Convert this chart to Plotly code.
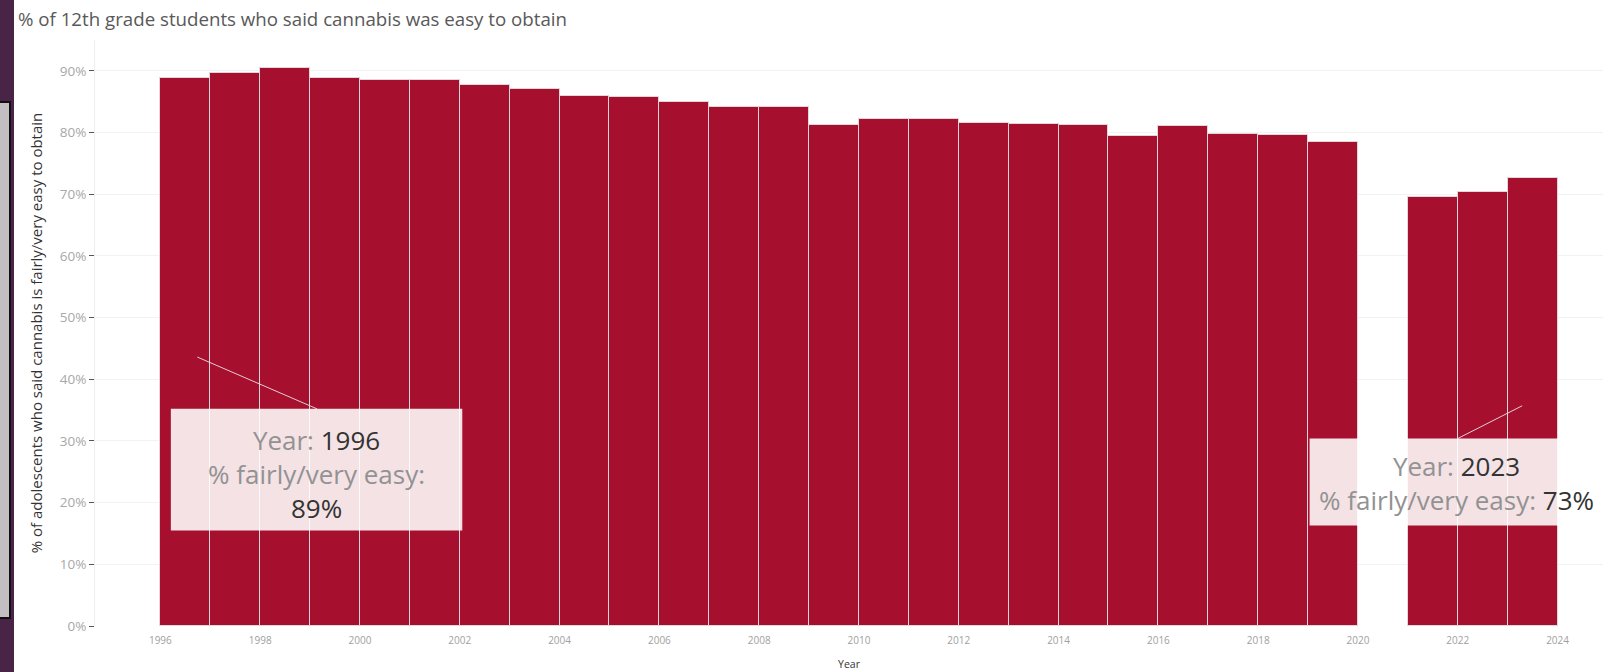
import plotly.graph_objects as go

years = [1996, 1997, 1998, 1999, 2000, 2001, 2002, 2003, 2004, 2005, 2006, 2007,
         2008, 2009, 2010, 2011, 2012, 2013, 2014, 2015, 2016, 2017, 2018, 2019,
         2021, 2022, 2023]
pct_easy = [88.8, 89.7, 90.5, 88.9, 88.5, 88.5, 87.7, 87.1, 85.9, 85.7, 84.9, 84.1,
            84.1, 81.2, 82.2, 82.2, 81.6, 81.4, 81.2, 79.4, 81.1, 79.8, 79.6, 78.4,
            69.6, 70.4, 72.7]
x_ticks = list(range(1996, 2025, 2))
y_ticks = list(range(0, 91, 10))
y_tick_labels = [f"{v}%" for v in y_ticks]

title_text = "% of 12th grade students who said cannabis was easy to obtain"
y_title = "% of adolescents who said cannabis is fairly/very easy to obtain"

BAR = "#A6102E"
FONT = "Open Sans"

fig = go.Figure()
fig.add_trace(go.Bar(
    x=years, y=pct_easy, offset=0, width=1,
    marker=dict(color=BAR, line=dict(color="rgba(225,215,218,1)", width=1)),
    hovertemplate="Year: %{x}<br>% fairly/very easy: %{y:.0f}%<extra></extra>",
))

# left-edge screenshot decoration
fig.add_shape(type="rect", xref="paper", yref="paper",
              x0=-95/1508, x1=-81/1508, y0=-46/586, y1=626/586,
              fillcolor="#4a2446", line=dict(width=0), layer="above")
fig.add_shape(type="rect", xref="paper", yref="paper",
              x0=-96/1508, x1=-85/1508, y0=(626-618)/586, y1=(626-102)/586,
              fillcolor="#c2bec2", line=dict(color="#111", width=2), layer="above")

# tooltip overlays
def tooltip(x0, x1, y0, y1, px, py, qx, qy):
    fig.add_shape(type="line", x0=px, y0=py, x1=qx, y1=qy,
                  line=dict(color="rgba(235,225,228,0.9)", width=1), layer="above")
    fig.add_shape(type="rect", x0=x0, x1=x1, y0=y0, y1=y1,
                  fillcolor="rgba(255,255,255,0.88)", line=dict(width=0), layer="above")

tooltip(1996.21, 2002.05, 15.5, 35.2, 1996.74, 43.6, 1999.14, 35.2)
tooltip(2019.03, 2024.95, 16.3, 30.4, 2023.29, 35.7, 2022.0, 30.4)

G = "#929292"
D = "#333333"
def txt(x, y, s):
    fig.add_annotation(x=x, y=y, text=s, showarrow=False, xanchor="center",
                       yanchor="middle", align="center",
                       font=dict(family=FONT, size=26, color=G))

cx1 = (1996.21 + 2002.05) / 2
txt(cx1, 24.7,
    f"Year: <span style='color:{D}'>{years[0]}</span><br>"
    f"% fairly/very easy:<br>"
    f"<span style='color:{D}'>{round(pct_easy[0])}%</span>")
cx2 = (2019.03 + 2024.91) / 2
txt(cx2, 23.2,
    f"Year: <span style='color:{D}'>{years[-1]}</span><br>"
    f"% fairly/very easy: <span style='color:{D}'>{round(pct_easy[-1])}%</span>")

fig.update_layout(
    width=1603, height=672,
    margin=dict(l=95, r=0, t=40, b=46),
    paper_bgcolor="white", plot_bgcolor="white",
    showlegend=False,
    bargap=0,
    font=dict(family=FONT, color="#555"),
    title=dict(text=title_text, x=18/1603, xanchor="left", xref="container",
               y=1-19/672, yanchor="middle", yref="container",
               font=dict(family=FONT, size=18.7, color="#595959")),
    xaxis=dict(range=[1994.69, 2024.91], tickmode="array", tickvals=x_ticks,
               ticktext=[str(t) for t in x_ticks], showgrid=False, zeroline=False,
               showline=False, ticks="", ticklabelstandoff=7, automargin=False,
               tickfont=dict(family=FONT, size=10, color="#a0a0a0"),
               title=dict(text="Year", font=dict(family=FONT, size=10.5, color="#333"), standoff=14)),
    yaxis=dict(range=[0, 95], tickmode="array", tickvals=y_ticks, ticktext=y_tick_labels,
               showgrid=True, gridcolor="#f2f2f2", gridwidth=1, zeroline=False,
               showline=True, linecolor="#eeeeee", linewidth=1, automargin=False,
               ticks="outside", ticklen=5, tickcolor="#555", tickwidth=1,
               tickfont=dict(family=FONT, size=13.5, color="#a8a8a8"),
               title=dict(text=y_title, font=dict(family=FONT, size=15, color="#333"), standoff=13)),
)

fig.write_html("out.html")
